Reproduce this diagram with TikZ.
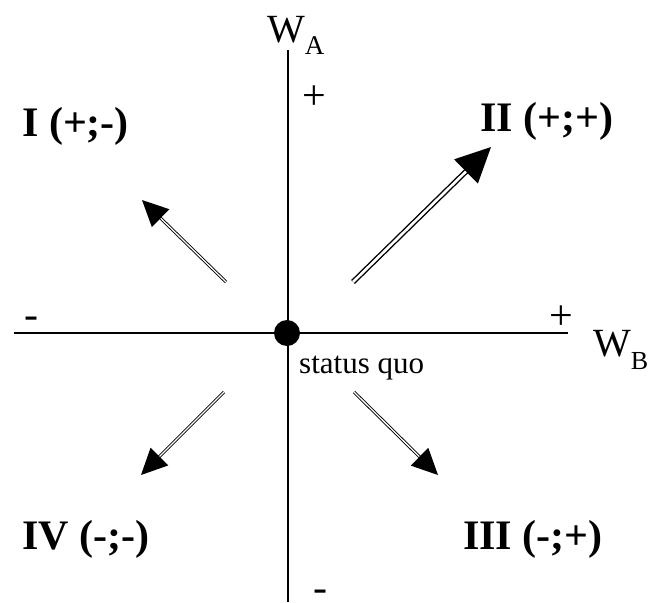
\documentclass[tikz,border=0pt]{standalone}
\usepackage{fontspec}
\setmainfont{Liberation Serif}
\usetikzlibrary{calc}
\tikzset{
  axis/.style={line width=1.8pt},
  quad/.style={font=\fontsize{42}{48}\selectfont\bfseries, inner sep=0pt, anchor=base west},
  sign/.style={font=\fontsize{42}{46}\selectfont, inner sep=0pt, anchor=base},
  thickdbl/.style={double, line width=1.4pt, double distance=2.6pt},
  thindbl/.style={double, line width=0.9pt, double distance=1.3pt},
}
\begin{document}
\begin{tikzpicture}[x=1pt,y=-1pt]
\path[use as bounding box] (0,0) rectangle (650,602);
% axes
\coordinate (vt) at (288,50);
\coordinate (vb) at (288,602);
\coordinate (hl) at (14,333);
\coordinate (hr) at (568,333);
\draw[axis] (vt) -- (vb);
\draw[axis] (hl) -- (hr);
\node[fill, circle, minimum size=26pt, inner sep=0pt] (sq) at (287,333) {};
% axis labels
\node[inner sep=0pt, anchor=base west, font=\fontsize{40}{44}\selectfont] (wa) at (267,43) {W\raisebox{-12pt}{\fontsize{27}{30}\selectfont A}};
\node[inner sep=0pt, anchor=base west, font=\fontsize{40}{44}\selectfont] (wb) at (593,356) {W\raisebox{-13pt}{\fontsize{26}{30}\selectfont B}};
\node[sign] (ptop) at (314,109) {+};
\node[sign] (pright) at (561,329) {+};
\node[sign] (mleft) at (31,328) {-};
\node[sign] (mbot) at (320,601) {-};
\node[inner sep=0pt, anchor=base west, font=\fontsize{31}{34}\selectfont] (sql) at (299,373) {status quo};
% quadrant labels
\node[quad] (q1) at (22,136) {I (+;-)};
\node[quad] (q2) at (480,131) {II (+;+)};
\node[quad] (q4) at (22,549) {IV (-;-)};
\node[quad] (q3) at (463,549) {III (-;+)};
% arrows
\coordinate (neS) at (353,282);
\coordinate (neT) at (491,147);
\coordinate (nwS) at (226,282);
\coordinate (nwT) at (142,200);
\coordinate (swS) at (224,392);
\coordinate (swT) at (141,475);
\coordinate (seS) at (354,392);
\coordinate (seT) at (438,475);
\draw[thickdbl] (neS) -- ($(neT)!31pt!(neS)$);
\fill (neT) -- ($(neT)!35pt!(neS)!17pt!90:(neS)$) -- ($(neT)!35pt!(neS)!17pt!-90:(neS)$) -- cycle;
\draw[thindbl] (nwS) -- ($(nwT)!22pt!(nwS)$);
\fill (nwT) -- ($(nwT)!26pt!(nwS)!12.5pt!90:(nwS)$) -- ($(nwT)!26pt!(nwS)!12.5pt!-90:(nwS)$) -- cycle;
\draw[thindbl] (swS) -- ($(swT)!22pt!(swS)$);
\fill (swT) -- ($(swT)!26pt!(swS)!12.5pt!90:(swS)$) -- ($(swT)!26pt!(swS)!12.5pt!-90:(swS)$) -- cycle;
\draw[thindbl] (seS) -- ($(seT)!22pt!(seS)$);
\fill (seT) -- ($(seT)!26pt!(seS)!12.5pt!90:(seS)$) -- ($(seT)!26pt!(seS)!12.5pt!-90:(seS)$) -- cycle;
\end{tikzpicture}
\end{document}
